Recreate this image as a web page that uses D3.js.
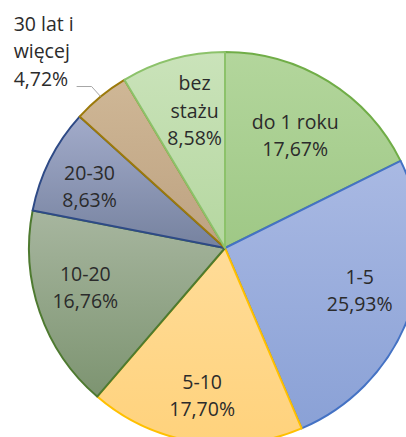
<!DOCTYPE html>
<html><head><meta charset="utf-8">
<script src="https://cdn.jsdelivr.net/npm/d3@7"></script>
<style>html,body{margin:0;padding:0;background:#fff;}svg{display:block;}</style>
</head><body>
<script>
const categories = ["do 1 roku", "1-5", "5-10", "10-20", "20-30", "30 lat i więcej", "bez stażu"];
const values = [17.67, 25.93, 17.70, 16.76, 8.63, 4.72, 8.58];
const valueLabels = ["17,67%", "25,93%", "17,70%", "16,76%", "8,63%", "4,72%", "8,58%"];
const labelLines = [["do 1 roku"], ["1-5"], ["5-10"], ["10-20"], ["20-30"], ["30 lat i", "więcej"], ["bez", "stażu"]];

// styles
const topColors = ["#b3d69c", "#a9b9e3", "#ffdc98", "#a7b69f", "#a2abca", "#cfb796", "#cae3ba"];
const bottomColors = ["#9fc886", "#8aa1d6", "#ffd27c", "#7d9471", "#76829f", "#bda281", "#b5d7a0"];
const strokeColors = ["#70ad47", "#4472c4", "#ffc000", "#4e7a30", "#2e4a86", "#9c7a0b", "#8cc26a"];
const labelRadiusFrac = [0.68, 0.72, 0.76, 0.74, 0.76, 1, 0.72];
const labelAngleNudge = [0, -3, 0, 3.5, -2, 0, 3];

const W = 406, H = 437;
const cx = 225, cy = 248, R = 196;
const fontSize = 19.5, lineH = 27.5;

const svg = d3.select("body").append("svg").attr("width", W).attr("height", H);
const defs = svg.append("defs");
categories.forEach((c, i) => {
  const g = defs.append("linearGradient").attr("id", "g" + i)
    .attr("x1", 0).attr("y1", 0).attr("x2", 0).attr("y2", 1);
  g.append("stop").attr("offset", "0%").attr("stop-color", topColors[i]);
  g.append("stop").attr("offset", "100%").attr("stop-color", bottomColors[i]);
});

const pie = d3.pie().sort(null).value(d => d);
const arcs = pie(values);
const arc = d3.arc().innerRadius(0).outerRadius(R);
const g = svg.append("g").attr("transform", `translate(${cx},${cy})`);

g.selectAll("path.slice").data(arcs).enter().append("path")
  .attr("class", "slice")
  .attr("d", arc)
  .attr("fill", (d, i) => `url(#g${i})`)
  .attr("stroke", (d, i) => strokeColors[i])
  .attr("stroke-width", 2)
  .attr("stroke-linejoin", "round");

const txtColor = "#2b2b2b";
arcs.forEach((d, i) => {
  const lines = labelLines[i].concat([valueLabels[i]]);
  const mid = (d.startAngle + d.endAngle) / 2 + labelAngleNudge[i] * Math.PI / 180;
  if (i === 5) {
    // outside label with leader line
    const ex = Math.sin(mid) * R, ey = -Math.cos(mid) * R;
    const elbowX = ex - 9, elbowY = ey - 10;
    const endX = elbowX - 15;
    g.append("polyline")
      .attr("points", `${ex},${ey} ${elbowX},${elbowY} ${endX},${elbowY}`)
      .attr("fill", "none").attr("stroke", "#a6a6a6").attr("stroke-width", 1);
    const t = g.append("text").attr("font-family", "'Open Sans', sans-serif")
      .attr("font-size", fontSize).attr("fill", txtColor).attr("text-anchor", "start");
    lines.forEach((ln, k) => {
      t.append("tspan").attr("x", endX - 63)
        .attr("y", elbowY - 1 + (k - (lines.length - 1)) * lineH)
        .text(ln);
    });
    return;
  }
  const r = R * labelRadiusFrac[i];
  const lx = Math.sin(mid) * r, ly = -Math.cos(mid) * r;
  const t = g.append("text").attr("font-family", "'Open Sans', sans-serif")
    .attr("font-size", fontSize).attr("fill", txtColor).attr("text-anchor", "middle");
  lines.forEach((ln, k) => {
    t.append("tspan").attr("x", lx)
      .attr("y", ly + (k - (lines.length - 1) / 2) * lineH + 7.5)
      .text(ln);
  });
});
</script>
</body></html>
